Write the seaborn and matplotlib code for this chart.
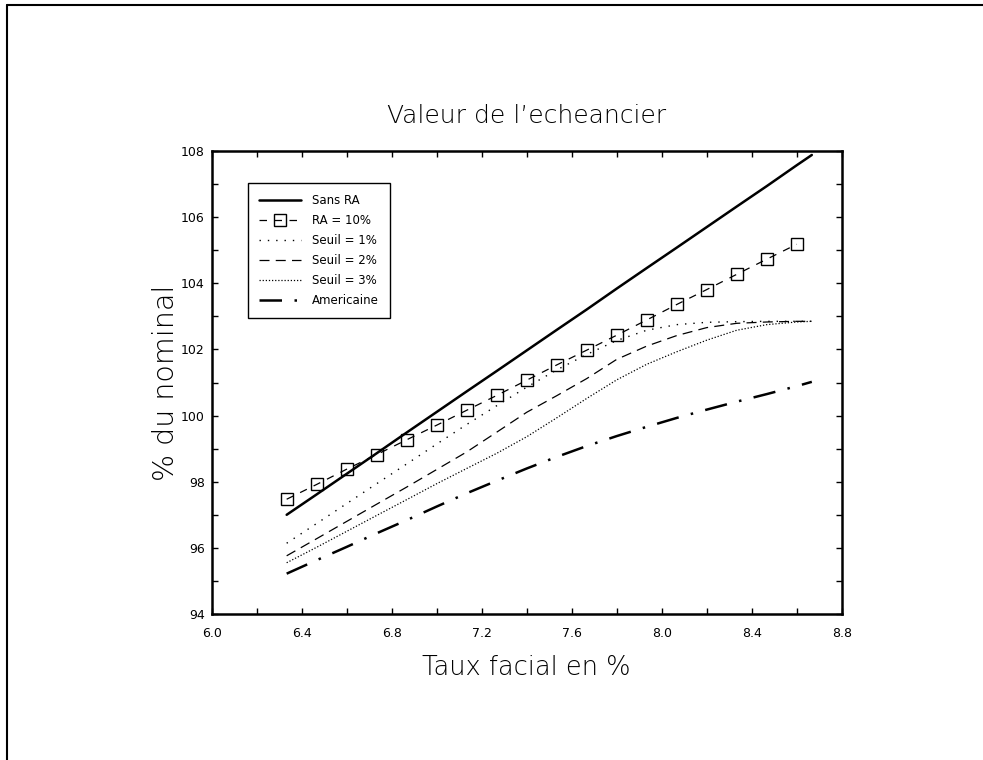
import matplotlib
matplotlib.use("Agg")
import matplotlib.pyplot as plt
import seaborn as sns
import pandas as pd
from matplotlib.lines import Line2D
from matplotlib.legend_handler import HandlerLine2D
from matplotlib.ticker import MultipleLocator

# ---------------- data ----------------
x_line = [6.333, 6.467, 6.600, 6.733, 6.867, 7.000, 7.133, 7.267, 7.400, 7.533,
          7.667, 7.800, 7.933, 8.067, 8.200, 8.333, 8.467, 8.600, 8.667]
sans_ra = [97.00, 97.62, 98.24, 98.86, 99.49, 100.11, 100.73, 101.35, 101.97, 102.59,
           103.21, 103.84, 104.46, 105.08, 105.70, 106.32, 106.94, 107.57, 107.88]
seuil_1 = [96.14, 96.74, 97.34, 97.94, 98.54, 99.14, 99.73, 100.30, 100.86, 101.38,
           101.85, 102.27, 102.58, 102.75, 102.82, 102.84, 102.85, 102.85, 102.85]
seuil_2 = [95.76, 96.28, 96.80, 97.32, 97.84, 98.37, 98.90, 99.50, 100.10, 100.60,
           101.12, 101.70, 102.10, 102.42, 102.66, 102.79, 102.83, 102.85, 102.85]
seuil_3 = [95.55, 96.02, 96.50, 96.98, 97.46, 97.94, 98.40, 98.86, 99.36, 99.93,
           100.52, 101.08, 101.55, 101.93, 102.28, 102.58, 102.75, 102.83, 102.85]
americaine = [95.22, 95.63, 96.03, 96.44, 96.84, 97.25, 97.65, 98.03, 98.40, 98.75,
              99.08, 99.38, 99.66, 99.93, 100.18, 100.42, 100.65, 100.89, 101.02]

x_ra = [6.333, 6.467, 6.600, 6.733, 6.867, 7.000, 7.133, 7.267, 7.400, 7.533,
        7.667, 7.800, 7.933, 8.067, 8.200, 8.333, 8.467, 8.600]
ra_10 = [97.47, 97.92, 98.38, 98.82, 99.27, 99.71, 100.16, 100.61, 101.07, 101.53,
         101.98, 102.43, 102.89, 103.36, 103.81, 104.27, 104.73, 105.18]

labels = ["Sans RA", "RA = 10%", "Seuil = 1%", "Seuil = 2%", "Seuil = 3%", "Americaine"]
title = "Valeur de l\u2019echeancier"
xlabel = "Taux facial en %"
ylabel = "% du nominal"

# ---------------- figure ----------------
sns.set_theme(style="white")
plt.rcParams["font.family"] = ["DejaVu Sans"]
plt.rcParams["text.color"] = "black"
plt.rcParams["axes.labelcolor"] = "black"

fig = plt.figure(figsize=(9.83, 7.60), dpi=100)
ax = fig.add_axes([0.2154, 0.1921, 0.6409, 0.6092])

k = dict(ax=ax, color="black", legend=False)
sns.lineplot(x=x_line, y=sans_ra, linewidth=1.8, linestyle="-", **k)
sns.lineplot(x=x_ra, y=ra_10, linewidth=0.9, linestyle=(0, (6, 6)),
             marker="s", markersize=9, markerfacecolor="none",
             markeredgecolor="black", markeredgewidth=1.0, **k)
sns.lineplot(x=x_line, y=seuil_1, linewidth=1.0, linestyle=(0, (1, 5)), **k)
sns.lineplot(x=x_line, y=seuil_2, linewidth=0.9, linestyle=(0, (8, 5)), **k)
sns.lineplot(x=x_line, y=seuil_3, linewidth=0.9, linestyle=(0, (1, 1.5)), **k)
sns.lineplot(x=x_line, y=americaine, linewidth=1.8, linestyle=(0, (9, 5, 1, 5)), **k)

ax.set_xlim(6.0, 8.8)
ax.set_ylim(94, 108)
ax.xaxis.set_major_locator(MultipleLocator(0.4))
ax.xaxis.set_minor_locator(MultipleLocator(0.2))
ax.yaxis.set_major_locator(MultipleLocator(2))
ax.yaxis.set_minor_locator(MultipleLocator(1))
ax.xaxis.set_major_formatter(matplotlib.ticker.FormatStrFormatter("%.1f"))
ax.yaxis.set_major_formatter(matplotlib.ticker.FormatStrFormatter("%d"))
ax.tick_params(which="both", direction="in", length=4, width=1.0,
               top=True, right=True, bottom=True, left=True,
               labelsize=9, colors="black")
ax.tick_params(axis="x", pad=9)
ax.tick_params(axis="y", pad=5)
for s in ax.spines.values():
    s.set_linewidth(1.8)
    s.set_color("black")

ax.set_xlabel(xlabel, fontsize=18.5, labelpad=11, fontweight=200)
ax.set_ylabel(ylabel, fontsize=20.5, labelpad=1, fontweight=200)
ax.set_title(title, fontsize=18, pad=20, color="black", fontweight=200)


class LeftMarkerHandler(HandlerLine2D):
    def get_xdata(self, legend, xdescent, ydescent, width, height, fontsize):
        xdata = [-xdescent, -xdescent + width]
        xdata_marker = [-xdescent + 0.1 * width]
        return xdata, xdata_marker


lines = ax.get_lines()
leg = ax.legend(lines[:6], labels, loc="upper left", bbox_to_anchor=(0.058, 0.93),
                fontsize=8.5, frameon=True, fancybox=False, framealpha=1,
                edgecolor="black", handlelength=3.6, handletextpad=0.9,
                labelspacing=0.6, borderpad=0.9, borderaxespad=0.0,
                handler_map={lines[1]: LeftMarkerHandler(numpoints=1)})
leg.get_frame().set_linewidth(1.0)
for t in leg.get_texts():
    t.set_color("black")

# page border (top and left)
fig.add_artist(Line2D([7 / 983, 1.0], [1 - 5 / 760, 1 - 5 / 760], color="black", linewidth=1.5))
fig.add_artist(Line2D([7 / 983, 7 / 983], [0.0, 1 - 5 / 760], color="black", linewidth=1.5))

fig.savefig("out.png", dpi=100)
